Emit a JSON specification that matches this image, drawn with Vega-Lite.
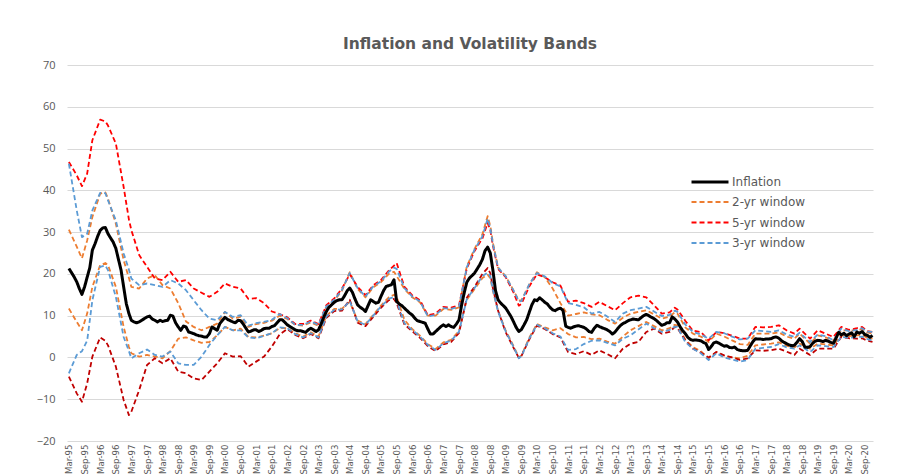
{
"$schema":"https://vega.github.io/schema/vega-lite/v6.json",
"width":806,"height":376,
"autosize":{"type":"none"},
"padding":{"left":67,"top":65,"right":26,"bottom":34},
"background":"white",
"title":{"text":"Inflation and Volatility Bands","font":"DejaVu Sans","fontSize":15.5,"fontWeight":"bold","color":"#595959","anchor":"middle","offset":7},
"config":{"view":{"stroke":null}},
"data":{"values":[
{"d":"1995-03-01","inf":21.3,"u2":30.6,"l2":11.7,"u3":46.4,"l3":-3.8,"u5":46.8,"l5":-4.6},
{"d":"1995-04-01","inf":20.3},
{"d":"1995-05-01","inf":19.3},
{"d":"1995-06-01","inf":18.1,"u2":26.5,"l2":8.5,"u3":35.2,"l3":0.6,"u5":43.6,"l5":-8.6},
{"d":"1995-07-01","inf":16.5},
{"d":"1995-08-01","inf":15.1,"u2":23.7,"l2":6.5,"u3":28.8,"l3":1.5,"u5":41,"l5":-10.6},
{"d":"1995-09-01","inf":16.9},
{"d":"1995-10-01","inf":19.2,"u2":28,"l2":10.5,"u3":29.6,"l3":4,"u5":44,"l5":-6.2},
{"d":"1995-11-01","inf":21.5},
{"d":"1995-12-01","inf":25.7,"u2":33.6,"l2":16.9,"u3":35.2,"l3":13.7,"u5":52,"l5":0.2},
{"d":"1996-01-01","inf":27.2},
{"d":"1996-02-01","inf":29},
{"d":"1996-03-01","inf":30.4,"u2":39.2,"l2":22.1,"u3":39.4,"l3":21.7,"u5":56.9,"l5":4.8},
{"d":"1996-04-01","inf":31},
{"d":"1996-05-01","inf":31.1,"u2":39.5,"l2":22.6,"u3":39.3,"l3":22,"u5":56.5,"l5":4},
{"d":"1996-06-01","inf":29.6,"u2":38,"l2":22.1,"u3":37.6,"l3":20.9,"u5":55.5,"l5":2.9},
{"d":"1996-07-01","inf":28.6},
{"d":"1996-08-01","inf":27.6},
{"d":"1996-09-01","inf":26.1,"u2":32,"l2":16.9,"u3":32.8,"l3":14.5,"u5":51.2,"l5":-2.2},
{"d":"1996-10-01","inf":23.5},
{"d":"1996-11-01","inf":20.9},
{"d":"1996-12-01","inf":16.9,"u2":23.3,"l2":7.3,"u3":24.9,"l3":4.9,"u5":40.8,"l5":-10.2},
{"d":"1997-01-01","inf":12.9},
{"d":"1997-02-01","inf":10.5,"u2":19,"l2":2.5,"u3":21,"l3":1.5,"u5":33,"l5":-13.8},
{"d":"1997-03-01","inf":8.9,"u2":16.9,"l2":1,"u3":18.9,"l3":-0.2,"u5":30.5,"l5":-13},
{"d":"1997-04-01","inf":8.5},
{"d":"1997-05-01","inf":8.3},
{"d":"1997-06-01","inf":8.5,"u2":16.5,"l2":0.2,"u3":17.3,"l3":1,"u5":24.5,"l5":-7.8},
{"d":"1997-07-01","inf":8.9},
{"d":"1997-08-01","inf":9.3},
{"d":"1997-09-01","inf":9.7,"u2":18.9,"l2":0.6,"u3":17.7,"l3":1.9,"u5":21.7,"l5":-1.8},
{"d":"1997-10-01","inf":9.9},
{"d":"1997-11-01","inf":9.2},
{"d":"1997-12-01","inf":8.9,"u2":19.7,"l2":0.2,"u3":17.3,"l3":0.6,"u5":18.9,"l5":-0.2},
{"d":"1998-01-01","inf":8.5},
{"d":"1998-02-01","inf":8.9},
{"d":"1998-03-01","inf":8.6,"u2":17.3,"l2":-0.2,"u3":16.9,"l3":0.2,"u5":18.5,"l5":-1.4},
{"d":"1998-04-01","inf":8.8},
{"d":"1998-05-01","inf":8.9},
{"d":"1998-06-01","inf":10.1,"u2":16.5,"l2":1.5,"u3":18.5,"l3":1.4,"u5":20.5,"l5":-0.2},
{"d":"1998-07-01","inf":9.9},
{"d":"1998-08-01","inf":8.3},
{"d":"1998-09-01","inf":7.3,"u2":13,"l2":4.5,"u3":17.7,"l3":-1.4,"u5":18.1,"l5":-3.4},
{"d":"1998-10-01","inf":6.5},
{"d":"1998-11-01","inf":7.5},
{"d":"1998-12-01","inf":7.3,"u2":8.6,"l2":4.8,"u3":16.1,"l3":-1.8,"u5":18.5,"l5":-3.8},
{"d":"1999-01-01","inf":6.1},
{"d":"1999-02-01","inf":5.9},
{"d":"1999-03-01","inf":5.7,"u2":7.3,"l2":4.1,"u3":13.7,"l3":-1.8,"u5":16.5,"l5":-5},
{"d":"1999-04-01","inf":5.4},
{"d":"1999-05-01","inf":5.2},
{"d":"1999-06-01","inf":5.1,"u2":6.5,"l2":3.5,"u3":11.3,"l3":0.2,"u5":15.5,"l5":-5.4},
{"d":"1999-07-01","inf":4.9},
{"d":"1999-08-01","inf":4.9},
{"d":"1999-09-01","inf":5.7,"u2":7.3,"l2":3.7,"u3":9.3,"l3":3,"u5":14.5,"l5":-3.4},
{"d":"1999-10-01","inf":7.3},
{"d":"1999-11-01","inf":6.9},
{"d":"1999-12-01","inf":6.5,"u2":8.1,"l2":5.3,"u3":8.9,"l3":5.3,"u5":15.7,"l5":-1.4},
{"d":"2000-01-01","inf":8.1},
{"d":"2000-02-01","inf":8.9},
{"d":"2000-03-01","inf":9.6,"u2":10.9,"l2":7.3,"u3":10.9,"l3":7.3,"u5":17.7,"l5":1},
{"d":"2000-04-01","inf":9.1},
{"d":"2000-05-01","inf":8.8},
{"d":"2000-06-01","inf":8.5,"u2":9.3,"l2":6.5,"u3":9.7,"l3":6.5,"u5":16.9,"l5":0.2},
{"d":"2000-07-01","inf":8.3},
{"d":"2000-08-01","inf":8.9},
{"d":"2000-09-01","inf":8.8,"u2":9.7,"l2":6.9,"u3":10.1,"l3":6.5,"u5":16.5,"l5":0.3},
{"d":"2000-10-01","inf":8},
{"d":"2000-11-01","inf":7},
{"d":"2000-12-01","inf":6.1,"u2":7.3,"l2":4.9,"u3":7.6,"l3":4.8,"u5":14,"l5":-2.2},
{"d":"2001-01-01","inf":6.3},
{"d":"2001-02-01","inf":6.6},
{"d":"2001-03-01","inf":6.6,"u2":8,"l2":4.8,"u3":8.2,"l3":4.6,"u5":14.2,"l5":-1},
{"d":"2001-04-01","inf":6.2},
{"d":"2001-05-01","inf":6.5},
{"d":"2001-06-01","inf":6.9,"u2":8.3,"l2":5.2,"u3":8.5,"l3":5.2,"u5":13,"l5":0.2},
{"d":"2001-07-01","inf":7},
{"d":"2001-08-01","inf":7},
{"d":"2001-09-01","inf":7.4,"u2":8.8,"l2":5.8,"u3":9,"l3":5.8,"u5":11,"l5":2.6},
{"d":"2001-10-01","inf":7.6},
{"d":"2001-11-01","inf":8.3},
{"d":"2001-12-01","inf":9,"u2":10,"l2":7,"u3":10.4,"l3":7.2,"u5":10.4,"l5":5.5},
{"d":"2002-01-01","inf":9},
{"d":"2002-02-01","inf":8.4},
{"d":"2002-03-01","inf":7.8,"u2":9.2,"l2":7,"u3":9.4,"l3":7,"u5":9.6,"l5":6.8},
{"d":"2002-04-01","inf":7.4},
{"d":"2002-05-01","inf":7},
{"d":"2002-06-01","inf":6.6,"u2":7.8,"l2":5.8,"u3":7.8,"l3":5.6,"u5":8,"l5":5.4},
{"d":"2002-07-01","inf":6.4},
{"d":"2002-08-01","inf":6.4},
{"d":"2002-09-01","inf":6.2,"u2":7.6,"l2":5,"u3":7.8,"l3":4.8,"u5":8,"l5":4.6},
{"d":"2002-10-01","inf":6},
{"d":"2002-11-01","inf":6.6},
{"d":"2002-12-01","inf":7,"u2":8.4,"l2":6,"u3":8.6,"l3":5.8,"u5":8.8,"l5":5.6},
{"d":"2003-01-01","inf":6.6},
{"d":"2003-02-01","inf":6.2},
{"d":"2003-03-01","inf":6.6,"u2":7.6,"l2":5,"u3":7.8,"l3":4.8,"u5":8,"l5":4.6},
{"d":"2003-04-01","inf":8},
{"d":"2003-05-01","inf":9.6},
{"d":"2003-06-01","inf":11,"u2":12,"l2":10,"u3":12.2,"l3":9.8,"u5":12.5,"l5":9.5},
{"d":"2003-07-01","inf":12},
{"d":"2003-08-01","inf":12.6},
{"d":"2003-09-01","inf":13.2,"u2":13.6,"l2":11.6,"u3":13.8,"l3":11.4,"u5":14.1,"l5":11.1},
{"d":"2003-10-01","inf":13.6},
{"d":"2003-11-01","inf":13.8},
{"d":"2003-12-01","inf":13.8,"u2":16,"l2":11.7,"u3":16.2,"l3":11.5,"u5":16.5,"l5":11.2},
{"d":"2004-01-01","inf":14.8},
{"d":"2004-02-01","inf":16},
{"d":"2004-03-01","inf":16.6,"u2":20.4,"l2":13.3,"u3":20.2,"l3":13.5,"u5":19.9,"l5":13.8},
{"d":"2004-04-01","inf":15.6},
{"d":"2004-05-01","inf":14},
{"d":"2004-06-01","inf":12.6,"u2":16.4,"l2":8.8,"u3":16.6,"l3":8.6,"u5":16.9,"l5":8.3},
{"d":"2004-07-01","inf":12},
{"d":"2004-08-01","inf":11.6},
{"d":"2004-09-01","inf":11,"u2":14.4,"l2":8,"u3":14.6,"l3":7.8,"u5":14.9,"l5":7.5},
{"d":"2004-10-01","inf":12.4},
{"d":"2004-11-01","inf":13.8},
{"d":"2004-12-01","inf":13.4,"u2":16.8,"l2":10.2,"u3":17,"l3":10,"u5":17.3,"l5":9.7},
{"d":"2005-01-01","inf":13},
{"d":"2005-02-01","inf":13.2},
{"d":"2005-03-01","inf":14.6,"u2":18,"l2":12.4,"u3":18.2,"l3":12.2,"u5":18.5,"l5":11.9},
{"d":"2005-04-01","inf":16},
{"d":"2005-05-01","inf":17},
{"d":"2005-06-01","inf":17.2,"u2":20,"l2":14.4,"u3":20.5,"l3":14,"u5":20.8,"l5":13.7},
{"d":"2005-07-01","inf":17.4},
{"d":"2005-08-01","inf":18.6,"u2":20.5,"l2":15,"u3":21.5,"l3":14.5,"u5":22,"l5":14},
{"d":"2005-09-01","inf":13.4,"u2":19.5,"l2":14.5,"u3":21.2,"l3":13.5,"u5":22.6,"l5":13},
{"d":"2005-10-01","inf":12.8},
{"d":"2005-11-01","inf":12.4},
{"d":"2005-12-01","inf":11.8,"u2":16.4,"l2":9,"u3":16.6,"l3":8.2,"u5":16.9,"l5":7.9},
{"d":"2006-01-01","inf":11.2},
{"d":"2006-02-01","inf":10.6},
{"d":"2006-03-01","inf":10.2,"u2":14.4,"l2":6.8,"u3":14.6,"l3":6.6,"u5":14.9,"l5":6.3},
{"d":"2006-04-01","inf":9.4},
{"d":"2006-05-01","inf":8.8},
{"d":"2006-06-01","inf":8.6,"u2":13.2,"l2":5.2,"u3":13.4,"l3":5,"u5":13.7,"l5":4.7},
{"d":"2006-07-01","inf":8.4},
{"d":"2006-08-01","inf":8.2},
{"d":"2006-09-01","inf":6.8,"u2":10,"l2":3.2,"u3":9.8,"l3":3,"u5":10.1,"l5":2.7},
{"d":"2006-10-01","inf":5.6},
{"d":"2006-11-01","inf":5.6},
{"d":"2006-12-01","inf":6.2,"u2":10,"l2":2,"u3":10.2,"l3":1.8,"u5":10.5,"l5":1.5},
{"d":"2007-01-01","inf":6.8},
{"d":"2007-02-01","inf":7.4},
{"d":"2007-03-01","inf":7.8,"u2":11.6,"l2":3.6,"u3":11.8,"l3":3.4,"u5":12.1,"l5":3.1},
{"d":"2007-04-01","inf":7.4},
{"d":"2007-05-01","inf":7.8},
{"d":"2007-06-01","inf":7.4,"u2":11.4,"l2":4.2,"u3":11.6,"l3":4,"u5":11.9,"l5":3.7},
{"d":"2007-07-01","inf":7.2},
{"d":"2007-08-01","inf":8},
{"d":"2007-09-01","inf":9,"u2":12,"l2":6.4,"u3":12.2,"l3":6.2,"u5":12.5,"l5":5.9},
{"d":"2007-10-01","inf":12.5},
{"d":"2007-11-01","inf":15.5},
{"d":"2007-12-01","inf":18,"u2":21.8,"l2":13.8,"u3":21.6,"l3":14,"u5":21.3,"l5":14.3},
{"d":"2008-01-01","inf":19},
{"d":"2008-02-01","inf":19.6},
{"d":"2008-03-01","inf":20.2,"u2":26,"l2":16.4,"u3":25.8,"l3":16.6,"u5":25.5,"l5":16.9},
{"d":"2008-04-01","inf":21.2},
{"d":"2008-05-01","inf":22.2},
{"d":"2008-06-01","inf":23.5,"u2":29.5,"l2":19,"u3":29,"l3":19.5,"u5":28.5,"l5":20},
{"d":"2008-07-01","inf":25.5},
{"d":"2008-08-01","inf":26.4,"u2":33.8,"l2":19.8,"u3":33.2,"l3":20.3,"u5":32.2,"l5":21.4},
{"d":"2008-09-01","inf":25,"u2":31.5,"l2":19,"u3":31,"l3":19.5,"u5":30.5,"l5":20.2},
{"d":"2008-10-01","inf":21,"u2":27.5,"l2":16,"u3":27.2,"l3":16.2,"u5":26.8,"l5":16.6},
{"d":"2008-11-01","inf":16},
{"d":"2008-12-01","inf":13.8,"u2":21.5,"l2":11.2,"u3":21.5,"l3":11,"u5":21.2,"l5":11.2},
{"d":"2009-01-01","inf":13},
{"d":"2009-02-01","inf":12.4},
{"d":"2009-03-01","inf":11.8,"u2":19.4,"l2":6.4,"u3":19.4,"l3":6.2,"u5":19.2,"l5":6},
{"d":"2009-04-01","inf":10.8},
{"d":"2009-05-01","inf":9.8},
{"d":"2009-06-01","inf":8.5,"u2":16,"l2":2.7,"u3":16,"l3":2.5,"u5":15.5,"l5":2.3},
{"d":"2009-07-01","inf":7.2},
{"d":"2009-08-01","inf":6.2,"u2":13.6,"l2":0,"u3":13.4,"l3":-0.2,"u5":12.4,"l5":-0.1},
{"d":"2009-09-01","inf":6.7,"u2":13.7,"l2":0.5,"u3":13.5,"l3":0.3,"u5":12.8,"l5":0.4},
{"d":"2009-10-01","inf":7.8},
{"d":"2009-11-01","inf":9},
{"d":"2009-12-01","inf":10.8,"u2":17.4,"l2":4.7,"u3":17.5,"l3":4.5,"u5":17,"l5":4.3},
{"d":"2010-01-01","inf":12.6},
{"d":"2010-02-01","inf":13.8},
{"d":"2010-03-01","inf":13.6,"u2":20.4,"l2":8,"u3":20.2,"l3":7.8,"u5":19.9,"l5":7.6},
{"d":"2010-04-01","inf":14.3},
{"d":"2010-05-01","inf":13.8},
{"d":"2010-06-01","inf":13.2,"u2":19.2,"l2":7.2,"u3":19.4,"l3":7,"u5":19.2,"l5":6.8},
{"d":"2010-07-01","inf":12.8},
{"d":"2010-08-01","inf":12},
{"d":"2010-09-01","inf":11.4,"u2":16.5,"l2":6.5,"u3":17.8,"l3":5.8,"u5":18,"l5":5.6},
{"d":"2010-10-01","inf":11.2},
{"d":"2010-11-01","inf":11.6},
{"d":"2010-12-01","inf":11.8,"u2":13,"l2":7,"u3":17,"l3":5,"u5":17.2,"l5":4.8},
{"d":"2011-01-01","inf":11.2},
{"d":"2011-02-01","inf":7.5},
{"d":"2011-03-01","inf":7.2,"u2":10,"l2":5.6,"u3":13,"l3":1.8,"u5":13.3,"l5":1.3},
{"d":"2011-04-01","inf":7},
{"d":"2011-05-01","inf":7.3},
{"d":"2011-06-01","inf":7.5,"u2":10.4,"l2":4.8,"u3":12.6,"l3":2,"u5":13.6,"l5":0.8},
{"d":"2011-07-01","inf":7.6},
{"d":"2011-08-01","inf":7.4},
{"d":"2011-09-01","inf":7.2,"u2":10.8,"l2":4.9,"u3":12,"l3":3.2,"u5":13,"l5":1.5},
{"d":"2011-10-01","inf":6.8},
{"d":"2011-11-01","inf":6.2},
{"d":"2011-12-01","inf":6,"u2":10.3,"l2":4.4,"u3":10.5,"l3":4,"u5":12.1,"l5":0.6},
{"d":"2012-01-01","inf":7},
{"d":"2012-02-01","inf":7.7},
{"d":"2012-03-01","inf":7.4,"u2":10.1,"l2":4.5,"u3":10.9,"l3":4.1,"u5":13.3,"l5":1.7},
{"d":"2012-04-01","inf":7.1},
{"d":"2012-05-01","inf":6.9},
{"d":"2012-06-01","inf":6.6,"u2":9,"l2":3.8,"u3":9.8,"l3":3.5,"u5":12.3,"l5":0.8},
{"d":"2012-07-01","inf":6.2},
{"d":"2012-08-01","inf":5.6},
{"d":"2012-09-01","inf":6.1,"u2":8.1,"l2":3.3,"u3":8.5,"l3":2.9,"u5":11.3,"l5":-0.2},
{"d":"2012-10-01","inf":6.9},
{"d":"2012-11-01","inf":7.6},
{"d":"2012-12-01","inf":8.1,"u2":9.5,"l2":5,"u3":10.5,"l3":4.5,"u5":13,"l5":2.1},
{"d":"2013-01-01","inf":8.4},
{"d":"2013-02-01","inf":8.8},
{"d":"2013-03-01","inf":9,"u2":10.5,"l2":6.5,"u3":11.3,"l3":5.3,"u5":14.4,"l5":3.3},
{"d":"2013-04-01","inf":9.2},
{"d":"2013-05-01","inf":9.1},
{"d":"2013-06-01","inf":9,"u2":10.9,"l2":7.5,"u3":11.7,"l3":6.7,"u5":14.8,"l5":3.7},
{"d":"2013-07-01","inf":9.5},
{"d":"2013-08-01","inf":10},
{"d":"2013-09-01","inf":10.3,"u2":11.3,"l2":8.5,"u3":12.1,"l3":8.1,"u5":14.4,"l5":6.1},
{"d":"2013-10-01","inf":10},
{"d":"2013-11-01","inf":9.6},
{"d":"2013-12-01","inf":9.3,"u2":10.3,"l2":7.5,"u3":11,"l3":7,"u5":12.5,"l5":6.9},
{"d":"2014-01-01","inf":8.8},
{"d":"2014-02-01","inf":8.2},
{"d":"2014-03-01","inf":7.7,"u2":9.3,"l2":6.5,"u3":9.9,"l3":6.1,"u5":10.5,"l5":5.7},
{"d":"2014-04-01","inf":7.9},
{"d":"2014-05-01","inf":8.3},
{"d":"2014-06-01","inf":8.3,"u2":9.8,"l2":7,"u3":10.2,"l3":6.6,"u5":10.8,"l5":6.1},
{"d":"2014-07-01","inf":9.7},
{"d":"2014-08-01","inf":9.2,"u2":10.8,"l2":7.8,"u3":11.2,"l3":7.4,"u5":11.9,"l5":7.3},
{"d":"2014-09-01","inf":8.5,"u2":10.5,"l2":7.7,"u3":10.9,"l3":7.3,"u5":11.5,"l5":7},
{"d":"2014-10-01","inf":7.4},
{"d":"2014-11-01","inf":6.4},
{"d":"2014-12-01","inf":5.7,"u2":7.2,"l2":4.3,"u3":7.9,"l3":3.7,"u5":8.8,"l5":4.1},
{"d":"2015-01-01","inf":4.8},
{"d":"2015-02-01","inf":4.3},
{"d":"2015-03-01","inf":4.1,"u2":5.7,"l2":2.5,"u3":6.1,"l3":2.1,"u5":6.4,"l5":2.1},
{"d":"2015-04-01","inf":4.2},
{"d":"2015-05-01","inf":4.1},
{"d":"2015-06-01","inf":4,"u2":5,"l2":1.5,"u3":5.5,"l3":1,"u5":6.1,"l5":1.2},
{"d":"2015-07-01","inf":3.6},
{"d":"2015-08-01","inf":3.3},
{"d":"2015-09-01","inf":1.9,"u2":3.7,"l2":-0.2,"u3":4.5,"l3":-0.6,"u5":4.1,"l5":0},
{"d":"2015-10-01","inf":2.6},
{"d":"2015-11-01","inf":3.5},
{"d":"2015-12-01","inf":3.7,"u2":5.7,"l2":1.3,"u3":6.1,"l3":1,"u5":6.1,"l5":1.3},
{"d":"2016-01-01","inf":3.4},
{"d":"2016-02-01","inf":3},
{"d":"2016-03-01","inf":2.7,"u2":5,"l2":0.4,"u3":5.8,"l3":0,"u5":5.8,"l5":0.5},
{"d":"2016-04-01","inf":2.8},
{"d":"2016-05-01","inf":2.4},
{"d":"2016-06-01","inf":2.3,"u2":4.1,"l2":0,"u3":5,"l3":-0.5,"u5":5.2,"l5":0},
{"d":"2016-07-01","inf":2.5},
{"d":"2016-08-01","inf":1.9},
{"d":"2016-09-01","inf":1.7,"u2":3.2,"l2":-0.2,"u3":4.3,"l3":-1,"u5":4.5,"l5":-0.6},
{"d":"2016-10-01","inf":1.6},
{"d":"2016-11-01","inf":1.6},
{"d":"2016-12-01","inf":1.7,"u2":3,"l2":0.4,"u3":4.5,"l3":-0.6,"u5":4.5,"l5":-0.2},
{"d":"2017-01-01","inf":2.8},
{"d":"2017-02-01","inf":3.8},
{"d":"2017-03-01","inf":4.5,"u2":5.7,"l2":2.9,"u3":6.5,"l3":2.1,"u5":7.3,"l5":1.7},
{"d":"2017-04-01","inf":4.4},
{"d":"2017-05-01","inf":4.4},
{"d":"2017-06-01","inf":4.3,"u2":5.7,"l2":3.1,"u3":6.3,"l3":2.3,"u5":7.2,"l5":1.6},
{"d":"2017-07-01","inf":4.4},
{"d":"2017-08-01","inf":4.4},
{"d":"2017-09-01","inf":4.5,"u2":5.7,"l2":3.3,"u3":6.1,"l3":2.5,"u5":7.3,"l5":1.7},
{"d":"2017-10-01","inf":4.8},
{"d":"2017-11-01","inf":4.9},
{"d":"2017-12-01","inf":4.6,"u2":6,"l2":3.6,"u3":6.5,"l3":3.2,"u5":7.7,"l5":2.1},
{"d":"2018-01-01","inf":4},
{"d":"2018-02-01","inf":3.6},
{"d":"2018-03-01","inf":3.3,"u2":5,"l2":2.8,"u3":5.5,"l3":2.4,"u5":6.5,"l5":1.4},
{"d":"2018-04-01","inf":3},
{"d":"2018-05-01","inf":2.8},
{"d":"2018-06-01","inf":2.9,"u2":4.5,"l2":2.4,"u3":4.9,"l3":2.1,"u5":5.7,"l5":0.6},
{"d":"2018-07-01","inf":3.6},
{"d":"2018-08-01","inf":4.5,"u2":5.7,"l2":3.3,"u3":5.9,"l3":2.9,"u5":6.9,"l5":2.1},
{"d":"2018-09-01","inf":3.8},
{"d":"2018-10-01","inf":2.5},
{"d":"2018-11-01","inf":2.4},
{"d":"2018-12-01","inf":2.6,"u2":3.3,"l2":2.1,"u3":3.7,"l3":1.3,"u5":4.5,"l5":0.6},
{"d":"2019-01-01","inf":3.4},
{"d":"2019-02-01","inf":3.9},
{"d":"2019-03-01","inf":4.1,"u2":5.3,"l2":3.3,"u3":5.5,"l3":2.9,"u5":6.5,"l5":2.1},
{"d":"2019-04-01","inf":4},
{"d":"2019-05-01","inf":3.8},
{"d":"2019-06-01","inf":4.1,"u2":4.8,"l2":3.1,"u3":5.1,"l3":2.7,"u5":5.7,"l5":2.1},
{"d":"2019-07-01","inf":3.9},
{"d":"2019-08-01","inf":3.6},
{"d":"2019-09-01","inf":3.4,"u2":4.1,"l2":2.9,"u3":4.1,"l3":2.5,"u5":4.9,"l5":2.1},
{"d":"2019-10-01","inf":4.6},
{"d":"2019-11-01","inf":6},
{"d":"2019-12-01","inf":5.4,"u2":6.5,"l2":5.3,"u3":6.9,"l3":4.9,"u5":7.3,"l5":4.9},
{"d":"2020-01-01","inf":5.8},
{"d":"2020-02-01","inf":5.2},
{"d":"2020-03-01","inf":5.6,"u2":6.5,"l2":5.1,"u3":6.3,"l3":4.7,"u5":6.6,"l5":4.6},
{"d":"2020-04-01","inf":5.9},
{"d":"2020-05-01","inf":5},
{"d":"2020-06-01","inf":6.1,"u2":6.5,"l2":5.3,"u3":6.6,"l3":4.9,"u5":7,"l5":4.5},
{"d":"2020-07-01","inf":5.8},
{"d":"2020-08-01","inf":6.2,"u2":6.8,"l2":5.4,"u3":7,"l3":5,"u5":7.3,"l5":4.6},
{"d":"2020-09-01","inf":5.5},
{"d":"2020-10-01","inf":5.3,"u2":6,"l2":4.7,"u3":6.2,"l3":4.4,"u5":6.3,"l5":4},
{"d":"2020-11-01","inf":4.8},
{"d":"2020-12-01","inf":5.3,"u2":5.7,"l2":4.5,"u3":6.1,"l3":4.1,"u5":6.1,"l5":3.7}
]},
"encoding":{
 "x":{"field":"d","type":"temporal",
  "scale":{"type":"utc","domain":[{"year":1995,"month":2,"date":7,"utc":true},{"year":2020,"month":12,"date":7,"utc":true}]},
  "axis":{"title":null,"grid":false,"domain":false,"ticks":false,"format":"%b-%y","labelAngle":-90,"labelPadding":3,"labelOverlap":false,"labelBound":false,"labelFlush":false,
   "labelFont":"Liberation Sans Narrow, DejaVu Sans Condensed, Roboto","labelFontSize":9.5,"labelColor":"#595959",
   "values":[
{"year":1995,"month":3,"date":1,"utc":true},{"year":1995,"month":9,"date":1,"utc":true},
{"year":1996,"month":3,"date":1,"utc":true},{"year":1996,"month":9,"date":1,"utc":true},
{"year":1997,"month":3,"date":1,"utc":true},{"year":1997,"month":9,"date":1,"utc":true},
{"year":1998,"month":3,"date":1,"utc":true},{"year":1998,"month":9,"date":1,"utc":true},
{"year":1999,"month":3,"date":1,"utc":true},{"year":1999,"month":9,"date":1,"utc":true},
{"year":2000,"month":3,"date":1,"utc":true},{"year":2000,"month":9,"date":1,"utc":true},
{"year":2001,"month":3,"date":1,"utc":true},{"year":2001,"month":9,"date":1,"utc":true},
{"year":2002,"month":3,"date":1,"utc":true},{"year":2002,"month":9,"date":1,"utc":true},
{"year":2003,"month":3,"date":1,"utc":true},{"year":2003,"month":9,"date":1,"utc":true},
{"year":2004,"month":3,"date":1,"utc":true},{"year":2004,"month":9,"date":1,"utc":true},
{"year":2005,"month":3,"date":1,"utc":true},{"year":2005,"month":9,"date":1,"utc":true},
{"year":2006,"month":3,"date":1,"utc":true},{"year":2006,"month":9,"date":1,"utc":true},
{"year":2007,"month":3,"date":1,"utc":true},{"year":2007,"month":9,"date":1,"utc":true},
{"year":2008,"month":3,"date":1,"utc":true},{"year":2008,"month":9,"date":1,"utc":true},
{"year":2009,"month":3,"date":1,"utc":true},{"year":2009,"month":9,"date":1,"utc":true},
{"year":2010,"month":3,"date":1,"utc":true},{"year":2010,"month":9,"date":1,"utc":true},
{"year":2011,"month":3,"date":1,"utc":true},{"year":2011,"month":9,"date":1,"utc":true},
{"year":2012,"month":3,"date":1,"utc":true},{"year":2012,"month":9,"date":1,"utc":true},
{"year":2013,"month":3,"date":1,"utc":true},{"year":2013,"month":9,"date":1,"utc":true},
{"year":2014,"month":3,"date":1,"utc":true},{"year":2014,"month":9,"date":1,"utc":true},
{"year":2015,"month":3,"date":1,"utc":true},{"year":2015,"month":9,"date":1,"utc":true},
{"year":2016,"month":3,"date":1,"utc":true},{"year":2016,"month":9,"date":1,"utc":true},
{"year":2017,"month":3,"date":1,"utc":true},{"year":2017,"month":9,"date":1,"utc":true},
{"year":2018,"month":3,"date":1,"utc":true},{"year":2018,"month":9,"date":1,"utc":true},
{"year":2019,"month":3,"date":1,"utc":true},{"year":2019,"month":9,"date":1,"utc":true},
{"year":2020,"month":3,"date":1,"utc":true},{"year":2020,"month":9,"date":1,"utc":true}
   ]}},
 "y":{"field":"v","type":"quantitative","scale":{"domain":[-20,70],"nice":false,"zero":false},
  "axis":{"title":null,"values":[-20,-10,0,10,20,30,40,50,60,70],"grid":true,"gridColor":"#D9D9D9","gridWidth":1,"domain":false,"ticks":false,"labelPadding":12,
   "labelFont":"Open Sans","labelFontSize":11,"labelColor":"#595959"}},
 "color":{"field":"k","type":"nominal",
  "scale":{"domain":["inf","u2","u5","u3","l2","l5","l3"],"range":["#000000","#ED7D31","#FF0000","#5B9BD5","#ED7D31","#C00000","#5B9BD5"]},
  "legend":{"title":null,"orient":"none","legendX":632,"legendY":106,"padding":0,"values":["inf","u2","u5","u3"],
   "labelExpr":"datum.label == 'inf' ? 'Inflation' : datum.label == 'u2' ? '2-yr window' : datum.label == 'u5' ? '5-yr window' : '3-yr window'",
   "symbolType":"M-2,0H2","symbolSize":342,"symbolFillColor":"transparent","labelFont":"DejaVu Sans","labelFontSize":12,"labelColor":"#595959","labelOffset":11,"rowPadding":3.5}},
 "strokeDash":{"field":"k","type":"nominal",
  "scale":{"domain":["inf","u2","u5","u3","l2","l5","l3"],"range":[[1,0],[5,3],[5,3],[5,3],[5,3],[5,3],[5,3]]},
  "legend":{"title":null,"orient":"none","legendX":632,"legendY":106,"padding":0,"values":["inf","u2","u5","u3"],
   "labelExpr":"datum.label == 'inf' ? 'Inflation' : datum.label == 'u2' ? '2-yr window' : datum.label == 'u5' ? '5-yr window' : '3-yr window'",
   "symbolType":"M-2,0H2","symbolSize":342,"symbolFillColor":"transparent","labelFont":"DejaVu Sans","labelFontSize":12,"labelColor":"#595959","labelOffset":11,"rowPadding":3.5}},
 "strokeWidth":{"field":"k","type":"nominal",
  "scale":{"type":"ordinal","domain":["inf","u2","u5","u3","l2","l5","l3"],"range":[3,1.8,1.8,1.8,1.8,1.8,1.8]},
  "legend":{"title":null,"orient":"none","legendX":632,"legendY":106,"padding":0,"values":["inf","u2","u5","u3"],
   "labelExpr":"datum.label == 'inf' ? 'Inflation' : datum.label == 'u2' ? '2-yr window' : datum.label == 'u5' ? '5-yr window' : '3-yr window'",
   "symbolType":"M-2,0H2","symbolSize":342,"symbolFillColor":"transparent","labelFont":"DejaVu Sans","labelFontSize":12,"labelColor":"#595959","labelOffset":11,"rowPadding":3.5}}
},
"layer":[
 {"transform":[{"fold":["u2","l2","u5","l5","u3","l3"],"as":["k","v"]},{"filter":"isValid(datum.v)"}],
  "mark":{"type":"line","strokeCap":"butt","strokeJoin":"round"}},
 {"transform":[{"fold":["inf"],"as":["k","v"]},{"filter":"isValid(datum.v)"}],
  "mark":{"type":"line","strokeCap":"butt","strokeJoin":"round"}}
]
}
